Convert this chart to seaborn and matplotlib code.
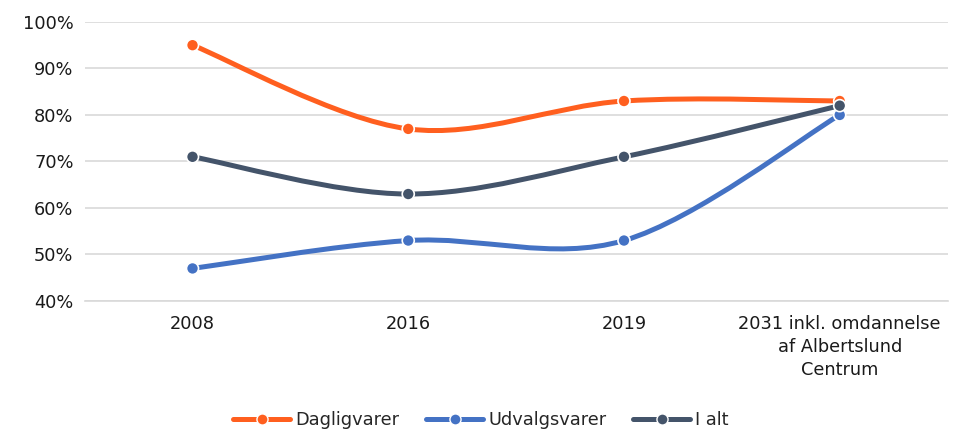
import numpy as np
import pandas as pd
import seaborn as sns
import matplotlib.pyplot as plt
from matplotlib.path import Path
from matplotlib.patches import PathPatch
from matplotlib.lines import Line2D

categories = ["2008", "2016", "2019", "2031 inkl. omdannelse\naf Albertslund\nCentrum"]
dagligvarer = [95, 77, 83, 83]
udvalgsvarer = [47, 53, 53, 80]
i_alt = [71, 63, 71, 82]

series = {"Dagligvarer": dagligvarer, "Udvalgsvarer": udvalgsvarer, "I alt": i_alt}
colors = {"Dagligvarer": "#FF5F1F", "Udvalgsvarer": "#4472C4", "I alt": "#44546A"}


def smooth_path(xs, ys):
    # Bezier segments through the points, like the "smoothed line" option
    pts = np.column_stack([xs, ys]).astype(float)
    n = len(pts)
    verts = [pts[0]]
    codes = [Path.MOVETO]
    for i in range(n - 1):
        p0 = pts[i - 1] if i > 0 else pts[i]
        p1 = pts[i]
        p2 = pts[i + 1]
        p3 = pts[i + 2] if i + 2 < n else pts[i + 1]
        c1 = p1 + (p2 - p0) / 6.0
        c2 = p2 - (p3 - p1) / 6.0
        verts += [c1, c2, p2]
        codes += [Path.CURVE4] * 3
    return Path(verts, codes)


rows = []
for name, vals in series.items():
    for i, v in enumerate(vals):
        rows.append({"x": i, "y": v, "serie": name})
df = pd.DataFrame(rows)

sns.set_theme(style="white")
plt.rcParams['font.family'] = ['DejaVu Sans']

fig = plt.figure(figsize=(9.62, 4.30), dpi=100)
ax = fig.add_axes([0.088, 0.30, 0.897, 0.649])

for name, vals in series.items():
    patch = PathPatch(smooth_path(range(len(vals)), vals), facecolor="none",
                      edgecolor=colors[name], lw=3.6, capstyle="round", zorder=2)
    ax.add_patch(patch)

sns.scatterplot(data=df, x="x", y="y", hue="serie", palette=colors, s=75,
                edgecolor="white", linewidth=1.2, zorder=3, legend=False, ax=ax)

ax.set_xlim(-0.5, 3.5)
ax.set_ylim(40, 100)
ax.set_yticks(range(40, 101, 10))
ax.set_yticklabels([f"{t}%" for t in range(40, 101, 10)])
ax.set_xticks(range(len(categories)))
ax.set_xticklabels(categories, linespacing=1.35)
ax.yaxis.grid(True, color="#D9D9D9", lw=1.2)
ax.set_axisbelow(True)
for s in ["top", "right", "left"]:
    ax.spines[s].set_visible(False)
ax.spines["bottom"].set_color("#D9D9D9")
ax.spines["bottom"].set_linewidth(1.2)
ax.tick_params(axis="both", length=0, labelsize=12.8, colors="#1a1a1a")
ax.tick_params(axis="x", pad=10)
ax.tick_params(axis="y", pad=8)
ax.set_xlabel("")
ax.set_ylabel("")

handles = [Line2D([0], [0], color=colors[n], lw=3.6, marker="o", markersize=8,
                  markeredgecolor="white", markeredgewidth=1) for n in series]
fig.legend(handles, list(series.keys()), loc="lower center", ncol=3,
           frameon=False, fontsize=12.8, bbox_to_anchor=(0.5, -0.035),
           handlelength=3.2, handletextpad=0.3, columnspacing=1.5)

fig.savefig("out.png", dpi=100)
